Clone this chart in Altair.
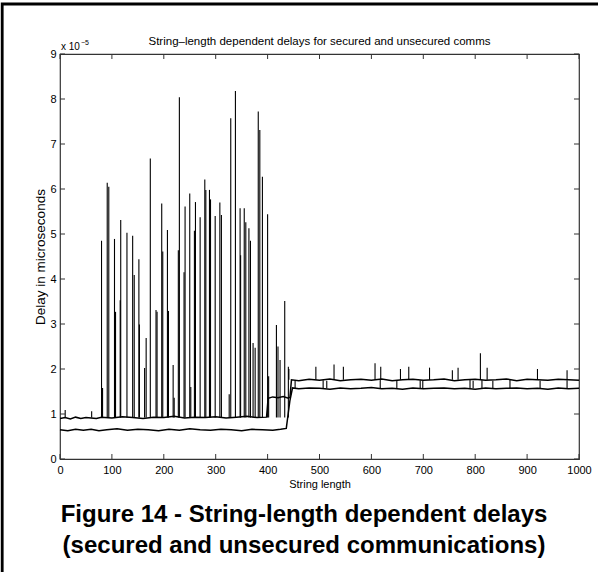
import altair as alt
import pandas as pd

# ---------------- data ----------------
x_ticks = [0, 100, 200, 300, 400, 500, 600, 700, 800, 900, 1000]
y_ticks = [0, 1, 2, 3, 4, 5, 6, 7, 8, 9]

# secured communications - baseline (string length, delay x1e-5 s)
sec_x = [0, 10, 20, 30, 40, 50, 60, 70, 80, 100, 120, 140, 160, 180, 200, 220, 240, 260,
         280, 300, 320, 340, 360, 380, 398, 401, 410, 420, 430, 440, 443, 446, 460, 480,
         500, 520, 540, 560, 580, 600, 620, 640, 660, 680, 700, 720, 740, 760, 780, 800,
         820, 840, 860, 880, 900, 920, 940, 960, 980, 1000]
sec_y = [0.90, 0.92, 0.89, 0.93, 0.90, 0.92, 0.91, 0.90, 0.93, 0.91, 0.94, 0.92, 0.90, 0.93,
         0.92, 0.95, 0.91, 0.93, 0.92, 0.94, 0.91, 0.93, 0.95, 0.92, 0.93, 1.35, 1.38, 1.36,
         1.39, 1.35, 1.37, 1.76, 1.74, 1.77, 1.75, 1.78, 1.74, 1.76, 1.77, 1.75, 1.78, 1.74,
         1.76, 1.77, 1.75, 1.76, 1.78, 1.74, 1.76, 1.77, 1.75, 1.76, 1.78, 1.74, 1.77, 1.76,
         1.75, 1.77, 1.76, 1.75]

# unsecured communications - baseline
uns_x = [0, 15, 30, 45, 60, 75, 90, 110, 130, 150, 170, 190, 210, 230, 250, 270, 290, 310,
         330, 350, 370, 390, 410, 425, 436, 443, 448, 460, 480, 500, 520, 540, 560, 580,
         600, 620, 640, 660, 680, 700, 720, 740, 760, 780, 800, 820, 840, 860, 880, 900,
         920, 940, 960, 980, 1000]
uns_y = [0.65, 0.63, 0.66, 0.64, 0.66, 0.63, 0.65, 0.67, 0.64, 0.66, 0.65, 0.63, 0.66, 0.64,
         0.67, 0.65, 0.64, 0.66, 0.65, 0.63, 0.66, 0.65, 0.64, 0.66, 0.68, 1.30, 1.58, 1.56,
         1.58, 1.57, 1.55, 1.58, 1.56, 1.57, 1.59, 1.56, 1.57, 1.55, 1.58, 1.56, 1.57, 1.58,
         1.56, 1.57, 1.55, 1.58, 1.56, 1.57, 1.58, 1.56, 1.57, 1.55, 1.58, 1.56, 1.57]

# delay spikes rising from the low-level baseline (string length, peak delay)
spike_x = [80, 82, 91, 94, 105, 107, 116, 117, 129, 140, 143, 152, 153, 163, 166, 174, 185,
           187, 196, 198, 207, 209, 218, 220, 228, 230, 239, 241, 250, 252, 259, 261, 270,
           279, 281, 288, 290, 299, 308, 311, 326, 329, 338, 347, 348, 355, 358, 364, 367,
           372, 376, 382, 385, 390, 400, 402, 417, 420, 424, 433, 440, 10, 61]
spike_y = [4.85, 1.58, 6.14, 6.05, 4.89, 3.27, 3.53, 5.31, 5.03, 4.96, 4.09, 4.44, 2.99,
           2.02, 2.69, 6.68, 3.31, 3.27, 5.68, 4.61, 5.09, 3.29, 2.09, 1.36, 4.64, 8.04,
           4.15, 5.61, 5.90, 1.60, 5.07, 5.71, 5.37, 6.21, 5.98, 5.98, 5.77, 5.40, 5.70,
           5.42, 1.44, 7.57, 8.18, 5.57, 4.53, 5.57, 5.26, 5.13, 4.85, 2.58, 2.47, 7.72,
           7.31, 6.27, 5.44, 1.84, 2.98, 2.50, 2.20, 3.51, 2.05, 1.09, 1.06]
# smaller spikes on the high-level (secured) baseline
hi_spike_x = [441, 493, 528, 546, 607, 618, 656, 672, 712, 756, 767, 810, 823, 920, 977]
hi_spike_y = [2.00, 2.05, 2.10, 2.05, 2.13, 2.05, 2.00, 2.05, 2.03, 1.97, 2.03, 2.35, 2.03,
              2.00, 1.97]
# short jumps of the unsecured trace up to the secured level
mid_spike_x = [453, 507, 514, 617, 649, 694, 699, 790, 796, 813, 834, 867, 925, 977]
mid_spike_y = [1.74, 1.75, 1.74, 1.76, 1.74, 1.75, 1.74, 1.76, 1.74, 1.75, 1.74, 1.76,
               1.74, 1.75]
low_floor = 0.92
high_floor = 1.76
mid_floor = 1.57

# ---------------- chart ----------------
W, H = 519, 405
FONT = "Liberation Sans"

xs = alt.Scale(domain=[0, 1000], nice=False, zero=False)
ys = alt.Scale(domain=[0, 9], nice=False, zero=False)

x_axis = alt.Axis(
    values=x_ticks, format="d", title="String length", ticks=False, domain=False,
    grid=False, labelFont=FONT, labelFontSize=11, labelColor="black", labelPadding=5,
    titleFont=FONT, titleFontSize=11, titleFontWeight="normal", titleColor="black",
    titlePadding=3, labelFlush=False)
y_axis = alt.Axis(
    values=y_ticks, format="d", title="Delay in microseconds", ticks=False,
    domain=False, grid=False, labelFont=FONT, labelFontSize=11, labelColor="black",
    labelPadding=4, titleFont=FONT, titleFontSize=13.5, titleFontWeight="normal",
    titleColor="black", titlePadding=2, labelFlush=False)

lines_df = pd.DataFrame({
    "x": sec_x + uns_x,
    "y": sec_y + uns_y,
    "series": ["secured"] * len(sec_x) + ["unsecured"] * len(uns_x),
})
spikes_df = pd.DataFrame({
    "x": spike_x + hi_spike_x + mid_spike_x,
    "y": spike_y + hi_spike_y + mid_spike_y,
    "floor": [low_floor] * len(spike_x) + [high_floor] * len(hi_spike_x)
             + [mid_floor] * len(mid_spike_x),
})

lines = alt.Chart(lines_df).mark_line(color="black", strokeWidth=1.5).encode(
    x=alt.X("x:Q", scale=xs, axis=x_axis),
    y=alt.Y("y:Q", scale=ys, axis=y_axis),
    detail="series:N",
)

spikes = alt.Chart(spikes_df).mark_rule(color="black", strokeWidth=1.1).encode(
    x=alt.X("x:Q", scale=xs, axis=x_axis),
    y=alt.Y("y:Q", scale=ys, axis=y_axis),
    y2="floor:Q",
)

xt_df = pd.DataFrame({"x": x_ticks})
yt_df = pd.DataFrame({"y": y_ticks})
tick_col = "#333333"
xt_bottom = alt.Chart(xt_df).mark_rule(color=tick_col, strokeWidth=1).encode(
    x=alt.X("x:Q", scale=xs, axis=x_axis), y=alt.value(H), y2=alt.value(H - 5))
xt_top = alt.Chart(xt_df).mark_rule(color=tick_col, strokeWidth=1).encode(
    x=alt.X("x:Q", scale=xs, axis=x_axis), y=alt.value(0), y2=alt.value(5))
yt_left = alt.Chart(yt_df).mark_rule(color=tick_col, strokeWidth=1).encode(
    y=alt.Y("y:Q", scale=ys, axis=y_axis), x=alt.value(0), x2=alt.value(5))
yt_right = alt.Chart(yt_df).mark_rule(color=tick_col, strokeWidth=1).encode(
    y=alt.Y("y:Q", scale=ys, axis=y_axis), x=alt.value(W), x2=alt.value(W - 5))

one = pd.DataFrame({"a": [0]})
frame = alt.Chart(one).mark_rect(filled=False, stroke="black", strokeWidth=2.8).encode(
    x=alt.value(-57.8), x2=alt.value(700), y=alt.value(-50), y2=alt.value(700))

title = alt.Chart(one).mark_text(font=FONT, fontSize=11.5, color="black",
                                 baseline="alphabetic", align="center").encode(
    x=alt.value(W / 2), y=alt.value(-9),
    text=alt.value("String\u2013length dependent delays for secured and unsecured comms"))

expo_a = alt.Chart(one).mark_text(font=FONT, fontSize=10, color="black",
                                  baseline="alphabetic", align="left").encode(
    x=alt.value(1), y=alt.value(-4), text=alt.value("x 10"))
expo_b = alt.Chart(one).mark_text(font=FONT, fontSize=7, color="black",
                                  baseline="alphabetic", align="left").encode(
    x=alt.value(21), y=alt.value(-9), text=alt.value("\u22125"))

caption = alt.Chart(one).mark_text(font=FONT, fontSize=24, fontWeight="bold", color="black",
                                   baseline="middle", align="center", lineHeight=31).encode(
    x=alt.value(244), y=alt.value(461),
    text=alt.value(["Figure 14 - String-length dependent delays",
                    "(secured and unsecured communications)"]))

chart = alt.layer(
    lines, spikes, xt_bottom, xt_top, yt_left, yt_right, frame, title, expo_a, expo_b, caption
).properties(
    width=W, height=H,
    autosize=alt.AutoSizeParams(type="none"),
    padding={"left": 60, "top": 54, "right": 19, "bottom": 113},
    background="white",
).configure_view(stroke="#333333", strokeWidth=1.2)

chart.save("out.html", embed_options={"renderer": "svg", "actions": False})
